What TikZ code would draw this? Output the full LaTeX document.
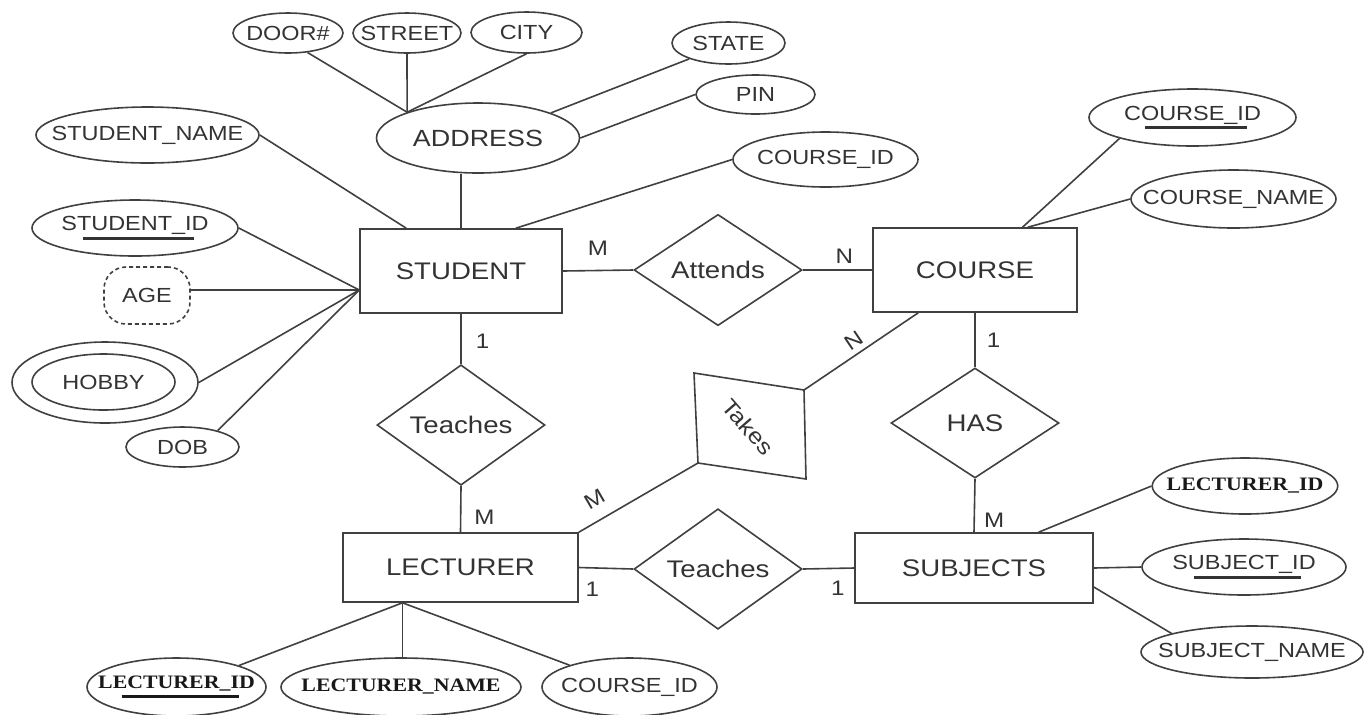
\documentclass[tikz,border=0pt]{standalone}
\usepackage{fontspec}
\setmainfont{Liberation Sans}[FakeStretch=1.15]
\newfontfamily\lecfont{Liberation Serif}[FakeStretch=1.15]
\usetikzlibrary{shapes.geometric}

\definecolor{linec}{HTML}{404040}
\definecolor{txtc}{HTML}{333333}

% key attribute: thick underline under the name
\newsavebox\keybox
\newcommand{\keyattr}[1]{\sbox\keybox{#1}\rlap{\hspace{.15\wd\keybox}\rule[-4.4pt]{.75\wd\keybox}{1.4pt}}\usebox\keybox}

\tikzset{
	every node/.style={text=txtc},
	entity/.style={draw=linec, rectangle, inner sep=0pt, font=\fontsize{12}{14}\selectfont},
	rel/.style={draw=linec, diamond, inner sep=0pt, minimum width=84pt, minimum height=55pt, font=\fontsize{12}{14}\selectfont},
	attr/.style={draw=linec, ellipse, inner xsep=-60pt, inner ysep=0pt, font=\fontsize{10.2}{12}\selectfont},
	lecattr/.style={attr, text=black!90, font=\lecfont\bfseries\fontsize{9.5}{11}\selectfont},
	card/.style={inner sep=0pt, font=\fontsize{10.5}{12}\selectfont},
}

\begin{document}
\begin{tikzpicture}[x=0.5pt, y=-0.5pt, line width=0.8pt, color=linec]
	\useasboundingbox (0, 0) rectangle (1370, 714);
	
	% entities
	\node [entity, minimum width=101pt, minimum height=42pt] (student) at (461, 271) {STUDENT};
	\node [entity, minimum width=102pt, minimum height=42pt] (course) at (975, 270) {COURSE};
	\node [entity, minimum width=117.5pt, minimum height=34.5pt] (lecturer) at (460.5, 567.5) {LECTURER};
	\node [entity, minimum width=119pt, minimum height=35pt] (subjects) at (974, 568) {SUBJECTS};
	
	% relationships
	\node [rel] (attends) at (718, 270) {Attends};
	\node [rel] (teaches) at (461, 425) {Teaches};
	\node [rel] (has) at (975, 423) {HAS};
	\node [rel] (teaches2) at (718, 569) {Teaches};
	
	\coordinate (t1) at (694, 373);
	\coordinate (t2) at (804, 390);
	\coordinate (t3) at (806, 479);
	\coordinate (t4) at (698, 463);
	\draw (t1) -- (t2) -- (t3) -- (t4) -- cycle;
	\node [rotate=-49, inner sep=0pt, font=\fontsize{11}{13}\selectfont] (takes) at (748, 427) {Takes};
	
	% student attributes
	\node [attr, minimum width=101.5pt, minimum height=35pt, font=\fontsize{11.7}{14}\selectfont] (address) at (478, 138) {ADDRESS};
	\node [attr, minimum width=55pt, minimum height=20pt] (door) at (288, 33) {DOOR\#};
	\node [attr, minimum width=54pt, minimum height=20pt] (street) at (407, 33) {STREET};
	\node [attr, minimum width=55.5pt, minimum height=20.5pt] (city) at (526.5, 32.5) {CITY};
	\node [attr, minimum width=56.5pt, minimum height=21pt] (state) at (728.5, 43) {STATE};
	\node [attr, minimum width=59.5pt, minimum height=19.5pt] (pin) at (755.5, 94.5) {PIN};
	\node [attr, minimum width=111.5pt, minimum height=28pt] (sname) at (147.5, 135) {STUDENT\_NAME};
	\node [attr, minimum width=92.5pt, minimum height=27.5pt] (cid1) at (825.5, 159.5) {COURSE\_ID};
	\node [attr, minimum width=103pt, minimum height=28pt] (sid) at (135, 228) {\keyattr{STUDENT\_ID}};
	\node [draw=linec, dashed, dash pattern=on 2pt off 1.5pt, rounded corners=11pt, inner sep=0pt,
		minimum width=43pt, minimum height=28.5pt, font=\fontsize{10.2}{12}\selectfont] (age) at (147, 295.5) {AGE};
	\node [attr, minimum width=93pt, minimum height=40.5pt] (hobby) at (105, 382.5) {};
	\node [attr, minimum width=71.5pt, minimum height=28pt] (hobbyin) at (103.5, 382) {HOBBY};
	\node [attr, minimum width=56.5pt, minimum height=20pt] (dob) at (182.5, 447) {DOB};
	
	% course attributes
	\node [attr, minimum width=103.5pt, minimum height=28.5pt] (cid2) at (1192.5, 117.5) {\keyattr{COURSE\_ID}};
	\node [attr, minimum width=102.5pt, minimum height=29pt] (cname) at (1233.5, 199) {COURSE\_NAME};
	
	% lecturer attributes
	\node [lecattr, minimum width=89.5pt, minimum height=29pt] (lid1) at (176.5, 687) {\keyattr{LECTURER\_ID}};
	\node [lecattr, minimum width=120pt, minimum height=29pt] (lname) at (401, 687) {LECTURER\_NAME};
	\node [attr, minimum width=87.5pt, minimum height=29pt] (lcid) at (629.5, 687) {COURSE\_ID};
	
	% subjects attributes
	\node [lecattr, minimum width=92.75pt, minimum height=28pt] (lid2) at (1245, 486) {LECTURER\_ID};
	\node [attr, minimum width=102pt, minimum height=28pt] (sidd) at (1244, 567) {\keyattr{SUBJECT\_ID}};
	\node [attr, minimum width=111pt, minimum height=26pt] (sjname) at (1252, 652) {SUBJECT\_NAME};
	
	% address parts
	\draw (door.-45) -- (address.160);
	\draw (street.south) -- (address.160);
	\draw (city.south) -- (address.160);
	\draw (state.202) -- (address.19);
	\draw (pin.west) -- (address.east);
	\draw (student.north) -- (student.north |- address.south);
	
	\draw (sname.east) -- (student.142);
	\draw (cid1.west) -- (student.38);
	
	\coordinate (sleft) at ([yshift=-9.5pt]student.west);
	\draw (sid.east) -- (sleft);
	\draw (sleft -| age.east) -- (sleft);
	\draw (hobby.east) -- (sleft);
	\draw (dob.25) -- (sleft);
	
	\draw (cid2.196) -- (course.42);
	\draw (cname.west) -- (course.39);
	
	\coordinate (lbot) at ([xshift=-29pt]lecturer.south);
	\draw (lbot) -- (lid1.19);
	\draw (lbot) -- (lbot |- lname.north);
	\draw (lbot) -- (lcid.160);
	
	\coordinate (sright) at ([yshift=-9.5pt]subjects.east);
	\draw (lid2.west) -- (subjects.29);
	\draw (subjects.east) -- (sidd.west);
	\draw (sright) -- (sjname.167);
	
	% relationships with cardinalities
	\draw (student.east) -- node [card, above=7pt] {M} (attends.west);
	\draw (attends.east) -- node [card, above=2.75pt, pos=.6] {N} (course.west);
	\draw (student.south) -- node [card, right=7pt, pos=.54] {1} (teaches.north);
	\draw (teaches.south) -- node [card, right=6.5pt, pos=.68] {M} (lecturer.north);
	\draw (course.south) -- node [card, right=5.5pt] {1} (has.north);
	\draw (has.south) -- node [card, right=4.5pt, pos=.78] {M} (subjects.north);
	\draw (lecturer.east) -- node [card, below=6.5pt, pos=.25] {1} (teaches2.west);
	\draw (teaches2.east) -- node [card, below=6pt, pos=.68] {1} (subjects.west);
	\draw (t2) -- node [card, sloped, above=2.75pt] {N} (course.217);
	\draw (lecturer.north east) -- node [card, sloped, above=6.5pt, pos=.22] {M} (t4);
\end{tikzpicture}
\end{document}
